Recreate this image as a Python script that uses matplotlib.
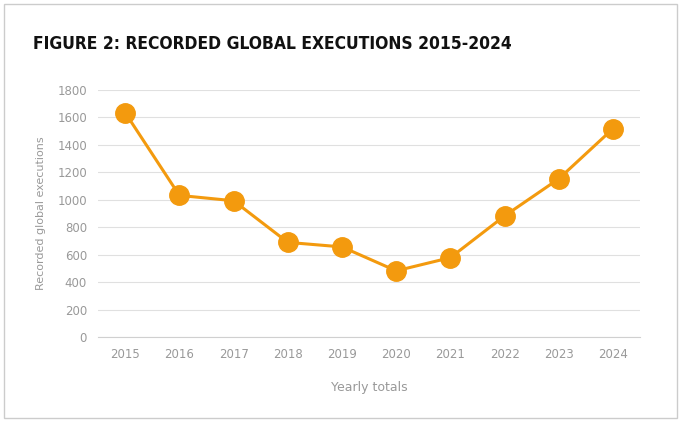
import matplotlib
matplotlib.use("Agg")
import matplotlib.pyplot as plt
from matplotlib.patches import Rectangle

years = [2015, 2016, 2017, 2018, 2019, 2020, 2021, 2022, 2023, 2024]
executions = [1634, 1032, 993, 690, 657, 483, 579, 883, 1153, 1518]
yticks = list(range(0, 1801, 200))

fig = plt.figure(figsize=(6.81, 4.22), dpi=100)
fig.patches.append(Rectangle((0.006, 0.01), 0.988, 0.98, transform=fig.transFigure,
                             fill=False, edgecolor="#cccccc", linewidth=1))
ax = fig.add_axes([0.144, 0.201, 0.796, 0.586])
ax.plot(years, executions, color="#F39A0E", linewidth=2.2, marker="o",
        markersize=14, markerfacecolor="#F39A0E", markeredgecolor="#F39A0E", zorder=3)
ax.set_xlim(2014.5, 2024.5)
ax.set_ylim(0, 1800)
ax.set_yticks(yticks)
ax.set_xticks(years)
ax.grid(axis="y", color="#e0e0e0", linewidth=0.8)
ax.set_axisbelow(True)
for s in ["top", "right", "left"]:
    ax.spines[s].set_visible(False)
ax.spines["bottom"].set_color("#d0d0d0")
ax.tick_params(axis="both", length=0, colors="#999999", labelsize=8.5, pad=8)
ax.set_xlabel("Yearly totals", color="#999999", fontsize=9, labelpad=14)
ax.set_ylabel("Recorded global executions", color="#999999", fontsize=8, labelpad=8)
fig.text(0.048, 0.885, "FIGURE 2: RECORDED GLOBAL EXECUTIONS 2015-2024",
         fontsize=12.5, fontweight="bold", fontstretch="condensed",
         color="#111111", fontfamily="DejaVu Sans")
fig.savefig("out.png", dpi=100)
